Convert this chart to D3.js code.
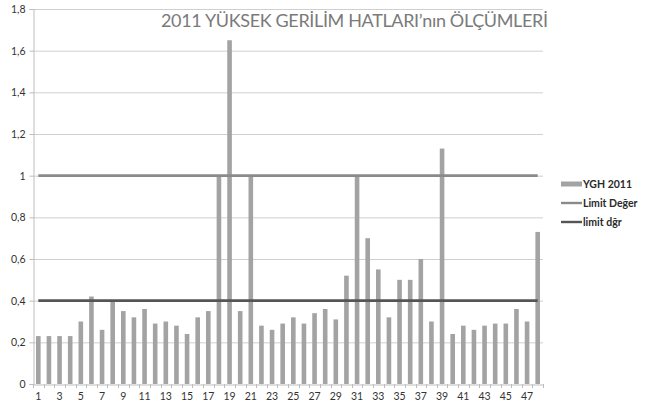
<!DOCTYPE html>
<html>
<head>
<meta charset="utf-8">
<script src="https://cdn.jsdelivr.net/npm/d3@7/dist/d3.min.js"></script>
<style>
  html, body { margin: 0; padding: 0; background: #fff; }
  svg { display: block; font-family: Lato, "Open Sans", sans-serif; }
</style>
</head>
<body>
<svg id="chart" width="653" height="410"></svg>
<script>
// Measurement points 1..48
const categories = d3.range(1, 49);
// YGH 2011 measured values
const yghValues = [
  0.23, 0.23, 0.23, 0.23, 0.30, 0.42, 0.26, 0.40, 0.35, 0.32,
  0.36, 0.29, 0.30, 0.28, 0.24, 0.32, 0.35, 1.00, 1.65, 0.35,
  1.00, 0.28, 0.26, 0.29, 0.32, 0.29, 0.34, 0.36, 0.31, 0.52,
  1.00, 0.70, 0.55, 0.32, 0.50, 0.50, 0.60, 0.30, 1.13, 0.24,
  0.28, 0.26, 0.28, 0.29, 0.29, 0.36, 0.30, 0.73
];
// Limit lines
const limitDeger = 1.0;
const limitDgr = 0.4;
const yTicks = [0, 0.2, 0.4, 0.6, 0.8, 1, 1.2, 1.4, 1.6, 1.8];
const xTickLabels = categories.filter(d => d % 2 === 1);
const seriesNames = ["YGH 2011", "Limit Değer", "limit dğr"];
const titleText = "2011 YÜKSEK GERİLİM HATLARI’nın ÖLÇÜMLERİ";

const svg = d3.select("#chart");
const plot = { left: 33, right: 543, top: 9, bottom: 384 };

const x = d3.scaleBand().domain(categories).range([plot.left, plot.right]).padding(0);
const y = d3.scaleLinear().domain([0, 1.8]).range([plot.bottom, plot.top]);

const barColor = "#a3a3a3";
const limitHighColor = "#8a8a8a";
const limitLowColor = "#555555";
const fmt = v => String(+v.toFixed(1)).replace(".", ",");

// gridlines
svg.append("g").selectAll("line").data(yTicks.filter(d => d > 0)).join("line")
  .attr("x1", plot.left).attr("x2", plot.right)
  .attr("y1", d => y(d) + 0.5).attr("y2", d => y(d) + 0.5)
  .attr("stroke", "#cfcfcf").attr("stroke-width", 1);

// y axis
const yAxis = svg.append("g").attr("transform", `translate(${plot.left + 0.5},0)`)
  .call(d3.axisLeft(y).tickValues(yTicks).tickSize(4).tickPadding(4).tickFormat(fmt));
yAxis.select(".domain").attr("stroke", "#bdbdbd");
yAxis.selectAll(".tick line").attr("stroke", "#bdbdbd");
yAxis.selectAll("text").attr("fill", "#333").style("font-size", "10.5px").style("font-family", "Lato, sans-serif");

// x axis
const xAxis = svg.append("g").attr("transform", `translate(0,${plot.bottom + 0.5})`)
  .call(d3.axisBottom(x).tickSize(0).tickPadding(8)
    .tickValues(xTickLabels).tickFormat(d => d));
xAxis.select(".domain").attr("stroke", "#bdbdbd");
xAxis.selectAll("text").attr("fill", "#333").style("font-size", "10.5px").style("font-family", "Lato, sans-serif");
// boundary tick marks between categories
svg.append("g").selectAll("line").data(categories.concat([null])).join("line")
  .attr("x1", (d, i) => Math.round(plot.left + i * x.step()) + 0.5)
  .attr("x2", (d, i) => Math.round(plot.left + i * x.step()) + 0.5)
  .attr("y1", plot.bottom).attr("y2", plot.bottom + 4)
  .attr("stroke", "#bdbdbd");

// bars
const bw = 4.6;
svg.append("g").selectAll("rect").data(categories).join("rect")
  .attr("x", (d, i) => x(d) + x.bandwidth() / 2 - bw / 2)
  .attr("width", bw)
  .attr("y", (d, i) => y(yghValues[i]))
  .attr("height", (d, i) => y(0) - y(yghValues[i]))
  .attr("fill", barColor);

// limit lines
const first = categories[0], last = categories[categories.length - 1];
const cx = d => x(d) + x.bandwidth() / 2;
[[limitDeger, limitHighColor], [limitDgr, limitLowColor]].forEach(([v, c]) => {
  svg.append("line")
    .attr("x1", cx(first)).attr("x2", cx(last))
    .attr("y1", y(v)).attr("y2", y(v))
    .attr("stroke", c).attr("stroke-width", 2.6);
});

// title
svg.append("text").attr("x", 161).attr("y", 27)
  .attr("textLength", 387).attr("lengthAdjust", "spacing")
  .attr("fill", "#7a7a7a").style("font-size", "18px").style("font-family", "Lato, sans-serif")
  .text(titleText);

// legend
const lg = svg.append("g").attr("transform", "translate(561,0)");
const legendY = [184, 203, 222];
lg.append("rect").attr("x", 0).attr("y", legendY[0] - 2.5).attr("width", 21).attr("height", 5).attr("fill", barColor);
lg.append("line").attr("x1", 0).attr("x2", 21).attr("y1", legendY[1]).attr("y2", legendY[1]).attr("stroke", limitHighColor).attr("stroke-width", 2.4);
lg.append("line").attr("x1", 0).attr("x2", 21).attr("y1", legendY[2]).attr("y2", legendY[2]).attr("stroke", limitLowColor).attr("stroke-width", 2.4);
lg.selectAll("text.lt").data(seriesNames).join("text").attr("class", "lt")
  .attr("x", 22).attr("y", (d, i) => legendY[i] + 3.5)
  .attr("fill", "#2a2a2a").style("font-size", "10.5px").style("font-weight", "bold")
  .style("font-family", "Lato, sans-serif")
  .text(d => d);
</script>
</body>
</html>
